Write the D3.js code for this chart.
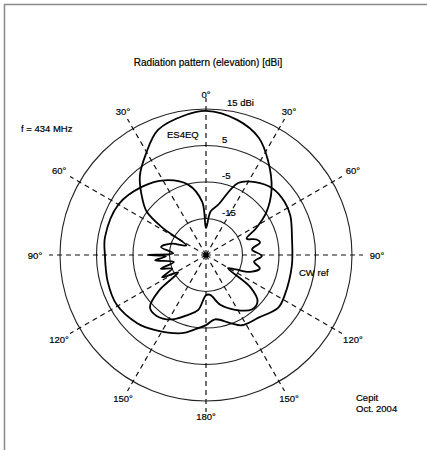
<!DOCTYPE html>
<html>
<head>
<meta charset="utf-8">
<script src="https://cdn.jsdelivr.net/npm/d3@7"></script>
<style>
	body { margin: 0; background: #fff; }
	text { font-family: "Liberation Sans", Arial, sans-serif; fill: #000; stroke: #000; stroke-width: 0.2; }
</style>
</head>
<body>
<script>
// grid rings (dBi) and their labels
const ringDb = [15, 5, -5, -15];
const ringLabels = ["15 dBi", "5", "-5", "-15"];

// spokes every 30 deg, labels are symmetric left / right
const spokeAngles = [0, 30, 60, 90, 120, 150, 180, 210, 240, 270, 300, 330];
const spokeLabels = ["0°", "30°", "60°", "90°", "120°", "150°", "180°", "150°", "120°", "90°", "60°", "30°"];

// ES4EQ antenna, angle (deg, clockwise from top) and gain (dBi)
const es4eqAngles = [-180, -172, -163, -152, -141, -133, -127, -122, -117, -112, -107, -102, -96, -92, -90, -87,
	-80, -72, -64, -58, -54, -49, -40, -31, -21, -8, 0, 13, 24, 33, 45, 55, 62, 68, 73, 77, 83, 91, 98, 104,
	111, 116, 121, 126, 132, 140, 152, 164, 174];
const es4eqDb = [-14, -9.8, -7.8, -5, -3.5, -4, -9, -16, -11.5, -15, -12, -16, -11, -14, -9.2, -16,
	-12.5, -15, -19, -11, -5, -2, 3.2, 7.1, 11.7, 13.8, 14.5, 13, 10.3, 6.1, 0.4, -4.9, -9.5, -13, -10.5, -9.8, -12.3, -9.7, -11.7, -9.8,
	-12.1, -16, -18, -10, -6, -5.5, -8, -10.8, -14];

// CW reference antenna
const cwAngles = [-172, -163, -146, -135, -119, -105, -90, -80, -60, -43, -29, -14, -4, 0, 6, 13.5, 24, 34,
	45, 56, 65, 79, 97, 117, 126, 140, 153, 160, 172, 180];
const cwDb = [-4.5, -2.6, -0.2, 1.5, 3.0, 2.9, 2.7, 3.1, 2.7, 0.6, -1.6, -5.2, -10.5, -17.6, -13, -10.9, -3.4, -0.9,
	0.8, 1.0, 0.5, -1.0, -1.3, -0.8, -0.5, -2.6, -3.4, -5.1, -7.2, -5.8];

const width = 427, height = 450,
	cx = 206, cy = 255;

const svg = d3.select("body").append("svg")
	.attr("width", width)
	.attr("height", height);

// scanned page frame (top and left edge only)
svg.append("path")
	.attr("d", "M4.5,450V4.5H427")
	.attr("fill", "none")
	.attr("stroke", "#8a8a8a")
	.attr("stroke-width", 1.5);

svg.append("text")
	.attr("x", 208).attr("y", 65.5)
	.attr("text-anchor", "middle")
	.attr("font-size", 10)
	.text("Radiation pattern (elevation) [dBi]");

svg.append("text")
	.attr("x", 21).attr("y", 131.5)
	.attr("font-size", 9.5)
	.text("f = 434 MHz");

svg.append("text")
	.attr("x", 356).attr("y", 400.5)
	.attr("font-size", 9.5)
	.text("Cepit");
svg.append("text")
	.attr("x", 356).attr("y", 411.5)
	.attr("font-size", 9.5)
	.text("Oct. 2004");

const r = d3.scaleLinear().domain([-25, 15]).range([0, 146]);
const rad = d => d * Math.PI / 180;

const g = svg.append("g")
	.attr("transform", "translate(" + cx + "," + cy + ")");

// rings
g.selectAll("circle.ring")
	.data(ringDb)
	.enter().append("circle")
		.attr("class", "ring")
		.attr("r", d => r(d))
		.attr("fill", "none")
		.attr("stroke", "#222")
		.attr("stroke-width", 1.1);

// dashed spokes
g.selectAll("line.spoke")
	.data(spokeAngles)
	.enter().append("line")
		.attr("class", "spoke")
		.attr("x1", 0).attr("y1", 0)
		.attr("x2", d => 157 * Math.sin(rad(d)))
		.attr("y2", d => -157 * Math.cos(rad(d)))
		.attr("stroke", "#111")
		.attr("stroke-width", 1.2)
		.attr("stroke-dasharray", "5,4");

g.selectAll("text.spoke")
	.data(spokeAngles)
	.enter().append("text")
		.attr("class", "spoke")
		.attr("x", d => (161 + 10 * Math.abs(Math.sin(rad(d)))) * Math.sin(rad(d)))
		.attr("y", d => -(161 + 10 * Math.abs(Math.sin(rad(d)))) * Math.cos(rad(d)))
		.attr("text-anchor", "middle")
		.attr("dominant-baseline", "central")
		.attr("font-size", 9.5)
		.text((d, i) => spokeLabels[i]);

// ring labels, sitting just above each ring on the right of the 0 deg spoke
g.selectAll("text.ring")
	.data(ringDb)
	.enter().append("text")
		.attr("class", "ring")
		.attr("x", (d, i) => i === 0 ? 21 : 16)
		.attr("y", d => -r(d) - 3)
		.attr("font-size", 9.5)
		.text((d, i) => ringLabels[i]);

const line = d3.lineRadial()
	.angle(d => rad(d[0]))
	.radius(d => r(d[1]))
	.curve(d3.curveCatmullRomClosed.alpha(0.5));

g.append("path")
	.datum(d3.zip(cwAngles, cwDb))
	.attr("d", line)
	.attr("fill", "none")
	.attr("stroke", "#000")
	.attr("stroke-width", 1.8);

g.append("path")
	.datum(d3.zip(es4eqAngles, es4eqDb))
	.attr("d", line)
	.attr("fill", "none")
	.attr("stroke", "#000")
	.attr("stroke-width", 1.8);

g.append("circle")
	.attr("r", 2.6)
	.attr("fill", "#000");

// series names
g.append("text")
	.attr("x", -39).attr("y", -117.5)
	.attr("font-size", 9.5)
	.text("ES4EQ");

g.append("text")
	.attr("x", 93).attr("y", 20.5)
	.attr("font-size", 9.5)
	.text("CW ref");
</script>
</body>
</html>
